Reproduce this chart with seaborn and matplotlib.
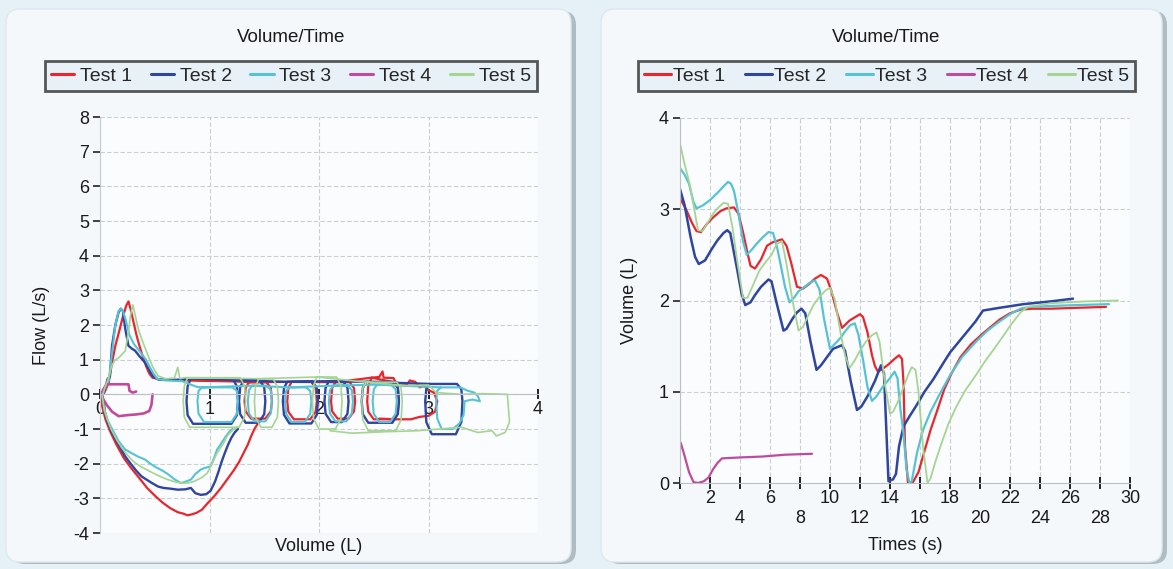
import matplotlib
matplotlib.use("Agg")
import matplotlib.pyplot as plt
from matplotlib.patches import FancyBboxPatch
from matplotlib.transforms import IdentityTransform
import seaborn as sns
import numpy as np

# ---------------- data ----------------
test_names = ["Test 1", "Test 2", "Test 3", "Test 4", "Test 5"]
test_colors = ["#e8262d", "#2f45a0", "#56c2d4", "#c04a9e", "#a6d493"]

# Flow / Volume loops (left chart)
t1_fv_vol = [1.44, 1.41, 1.38, 1.35, 1.31, 1.27, 1.22, 1.16, 1.10, 1.04, 0.98, 0.93, 0.88, 0.84, 0.80,
             0.76, 0.71, 0.64, 0.57, 0.50, 0.43, 0.36, 0.29, 0.22, 0.15, 0.09, 0.05, 0.02, 0.01,
             0.04, 0.08, 0.11, 0.14, 0.18, 0.21, 0.24, 0.26, 0.28, 0.30, 0.33, 0.36, 0.39, 0.42, 0.45,
             0.48, 0.55, 0.70, 0.90, 1.10, 1.25,
             1.36, 1.52, 1.56, 1.57, 1.56, 1.51, 1.38, 1.33, 1.32, 1.33, 1.36,
             1.75, 1.93, 1.97, 1.98, 1.97, 1.92, 1.77, 1.72, 1.71, 1.72, 1.75,
             2.15, 2.28, 2.32, 2.33, 2.32, 2.27, 2.17, 2.12, 2.11, 2.12, 2.15,
             2.48, 2.55, 2.58, 2.59, 2.68, 2.72, 2.73, 2.72, 2.67, 2.50, 2.45, 2.44, 2.45, 2.48,
             2.80, 2.83, 2.88, 2.92, 2.96, 3.00, 3.05, 3.08, 3.06, 3.00, 2.92, 2.84, 2.70, 2.55]
t1_fv_flow = [-0.85, -1.00, -1.21, -1.45, -1.70, -1.95, -2.20, -2.46, -2.72, -2.95, -3.15, -3.33, -3.42, -3.46, -3.49,
              -3.44, -3.40, -3.28, -3.12, -2.92, -2.70, -2.42, -2.15, -1.85, -1.45, -1.05, -0.72, -0.35, 0.00,
              0.05, 0.35, 0.92, 1.40, 1.88, 2.25, 2.56, 2.68, 2.45, 2.17, 1.75, 1.40, 1.10, 0.82, 0.60,
              0.48, 0.43, 0.41, 0.39, 0.38, 0.37,
              0.35, 0.35, 0.18, -0.20, -0.49, -0.70, -0.70, -0.49, -0.20, 0.18, 0.35,
              0.36, 0.36, 0.18, -0.20, -0.50, -0.72, -0.72, -0.50, -0.20, 0.18, 0.36,
              0.35, 0.35, 0.18, -0.20, -0.49, -0.70, -0.70, -0.49, -0.20, 0.18, 0.35,
              0.48, 0.50, 0.66, 0.48, 0.47, 0.24, -0.20, -0.50, -0.72, -0.72, -0.50, -0.20, 0.24, 0.48,
              0.28, 0.40, 0.36, 0.20, 0.25, 0.12, 0.05, -0.20, -0.50, -0.62, -0.65, -0.72, -0.72, -0.70]

t2_fv_vol = [1.26, 1.23, 1.20, 1.17, 1.14, 1.11, 1.08, 1.05, 1.01, 0.97, 0.92, 0.87, 0.83, 0.78, 0.71,
             0.64, 0.58, 0.53, 0.47, 0.42, 0.38, 0.33, 0.28, 0.23, 0.17, 0.11, 0.07, 0.04, 0.02,
             0.04, 0.07, 0.09, 0.11, 0.14, 0.17, 0.19, 0.21, 0.23, 0.26, 0.29, 0.32, 0.36, 0.41, 0.45,
             0.48, 0.53, 0.60, 0.70, 0.80,
             0.83, 1.21, 1.25, 1.26, 1.25, 1.20, 0.85, 0.80, 0.79, 0.80, 0.83,
             1.31, 1.46, 1.50, 1.51, 1.50, 1.45, 1.33, 1.28, 1.27, 1.28, 1.31,
             1.71, 1.94, 1.98, 1.99, 1.98, 1.93, 1.73, 1.68, 1.67, 1.68, 1.71,
             2.09, 2.22, 2.26, 2.27, 2.26, 2.21, 2.11, 2.06, 2.05, 2.06, 2.09,
             2.43, 2.68, 2.72, 2.73, 2.72, 2.67, 2.45, 2.40, 2.39, 2.40, 2.43,
             3.01, 3.26, 3.30, 3.31, 3.30, 3.25, 3.03, 2.98, 2.97, 2.98, 3.01]
t2_fv_flow = [-1.00, -1.10, -1.25, -1.45, -1.69, -1.95, -2.25, -2.52, -2.78, -2.88, -2.90, -2.85, -2.70, -2.74, -2.75,
              -2.72, -2.70, -2.66, -2.55, -2.45, -2.37, -2.20, -2.00, -1.79, -1.45, -1.10, -0.80, -0.45, -0.05,
              0.10, 0.45, 0.50, 1.40, 2.00, 2.37, 2.47, 2.40, 1.90, 1.40, 1.32, 1.26, 1.10, 0.92, 0.70,
              0.53, 0.43, 0.42, 0.42, 0.44,
              0.46, 0.46, 0.23, -0.20, -0.60, -0.85, -0.85, -0.60, -0.20, 0.23, 0.46,
              0.40, 0.40, 0.20, -0.20, -0.57, -0.82, -0.82, -0.57, -0.20, 0.20, 0.40,
              0.36, 0.36, 0.18, -0.20, -0.59, -0.84, -0.84, -0.59, -0.20, 0.18, 0.36,
              0.38, 0.38, 0.19, -0.20, -0.56, -0.80, -0.80, -0.56, -0.20, 0.19, 0.38,
              0.36, 0.36, 0.18, -0.20, -0.57, -0.82, -0.82, -0.57, -0.20, 0.18, 0.36,
              0.30, 0.30, 0.15, -0.20, -0.80, -1.15, -1.15, -0.80, -0.20, 0.15, 0.30]

t3_fv_vol = [1.21, 1.18, 1.15, 1.12, 1.09, 1.07, 1.04, 1.01, 0.96, 0.92, 0.87, 0.83, 0.78, 0.74, 0.68,
             0.62, 0.57, 0.51, 0.45, 0.41, 0.35, 0.29, 0.23, 0.17, 0.11, 0.07, 0.04, 0.02,
             0.04, 0.08, 0.11, 0.14, 0.17, 0.19, 0.21, 0.23, 0.27, 0.31, 0.36, 0.42, 0.47, 0.52, 0.60,
             0.75, 0.88,
             0.93, 1.21, 1.25, 1.26, 1.25, 1.20, 0.95, 0.90, 0.89, 0.90, 0.93,
             1.39, 1.52, 1.56, 1.57, 1.56, 1.51, 1.41, 1.36, 1.35, 1.36, 1.39,
             1.73, 1.88, 1.92, 1.93, 1.92, 1.87, 1.75, 1.70, 1.69, 1.70, 1.73,
             2.13, 2.26, 2.30, 2.31, 2.30, 2.25, 2.15, 2.10, 2.09, 2.10, 2.13,
             2.53, 2.66, 2.70, 2.71, 2.70, 2.65, 2.55, 2.50, 2.49, 2.50, 2.53,
             3.11, 3.29, 3.36, 3.42, 3.45, 3.47, 3.40, 3.33, 3.32, 3.28, 3.22, 3.12, 3.08, 3.07, 3.08, 3.11]
t3_fv_flow = [-1.00, -1.08, -1.21, -1.35, -1.50, -1.59, -1.85, -2.08, -2.12, -2.17, -2.30, -2.46, -2.52, -2.56, -2.45,
              -2.30, -2.20, -2.10, -1.98, -1.88, -1.80, -1.70, -1.59, -1.35, -1.00, -0.75, -0.45, -0.05,
              0.15, 0.40, 1.20, 2.00, 2.40, 2.47, 2.40, 2.20, 1.70, 1.45, 1.25, 1.00, 0.70, 0.45, 0.40,
              0.38, 0.22,
              0.20, 0.20, 0.10, -0.20, -0.56, -0.80, -0.80, -0.56, -0.20, 0.10, 0.20,
              0.25, 0.25, 0.12, -0.20, -0.55, -0.78, -0.78, -0.55, -0.20, 0.12, 0.25,
              0.20, 0.20, 0.10, -0.20, -0.56, -0.80, -0.80, -0.56, -0.20, 0.10, 0.20,
              0.25, 0.25, 0.12, -0.20, -0.55, -0.78, -0.78, -0.55, -0.20, 0.12, 0.25,
              0.28, 0.28, 0.14, -0.20, -0.56, -0.80, -0.80, -0.56, -0.20, 0.14, 0.28,
              0.20, 0.20, 0.10, 0.05, -0.05, -0.20, -0.15, -0.20, -0.60, -0.85, -1.00, -1.00, -0.70, -0.20, 0.10, 0.20]

t4_fv_vol = [0.48, 0.47, 0.45, 0.40, 0.33, 0.25, 0.17, 0.11, 0.06, 0.03, 0.01, 0.03, 0.06, 0.10, 0.18, 0.26, 0.27, 0.30, 0.33]
t4_fv_flow = [0.00, -0.30, -0.48, -0.55, -0.58, -0.60, -0.63, -0.50, -0.30, -0.14, 0.00, 0.14, 0.29, 0.29, 0.29, 0.29, 0.10, 0.05, 0.08]

t5_fv_vol = [1.25, 1.22, 1.19, 1.16, 1.13, 1.10, 1.07, 1.03, 0.98, 0.93, 0.86, 0.80, 0.74, 0.68, 0.61,
             0.55, 0.49, 0.43, 0.37, 0.31, 0.25, 0.20, 0.15, 0.10, 0.07, 0.04, 0.02,
             0.04, 0.08, 0.11, 0.14, 0.17, 0.20, 0.23, 0.26, 0.28, 0.30, 0.32, 0.35, 0.38, 0.41, 0.44,
             0.48, 0.53, 0.60, 0.68, 0.71, 0.73, 0.77,
             0.80, 1.28, 1.32, 1.33, 1.32, 1.27, 0.82, 0.77, 0.76, 0.77, 0.80,
             1.45, 1.58, 1.62, 1.63, 1.62, 1.57, 1.47, 1.42, 1.41, 1.42, 1.45,
             1.98, 2.16, 2.20, 2.21, 2.20, 2.15, 2.00, 1.95, 1.94, 1.95, 1.98,
             2.43, 2.71, 2.75, 2.76, 2.75, 2.70, 2.45, 2.40, 2.39, 2.40, 2.43,
             2.80, 3.00, 3.07, 3.30, 3.50, 3.72, 3.74, 3.70, 3.62, 3.58, 3.45, 3.30, 3.10, 2.90, 2.60, 2.30, 2.10]
t5_fv_flow = [-0.95, -1.01, -1.10, -1.21, -1.40, -1.55, -1.69, -1.95, -2.27, -2.40, -2.51, -2.56, -2.56, -2.52, -2.45,
              -2.37, -2.28, -2.18, -2.08, -1.95, -1.75, -1.55, -1.30, -1.00, -0.75, -0.45, -0.05,
              0.15, 0.50, 0.85, 1.00, 1.05, 1.15, 1.25, 1.80, 2.30, 2.58, 2.30, 1.88, 1.60, 1.35, 1.11,
              0.80, 0.53, 0.45, 0.47, 0.78, 0.45, 0.48,
              0.48, 0.48, 0.24, -0.20, -0.66, -0.95, -0.95, -0.66, -0.20, 0.24, 0.48,
              0.45, 0.45, 0.22, -0.20, -0.66, -0.95, -0.95, -0.66, -0.20, 0.22, 0.45,
              0.50, 0.50, 0.25, -0.20, -0.70, -1.00, -1.00, -0.70, -0.20, 0.25, 0.50,
              0.35, 0.35, 0.18, -0.20, -0.73, -1.05, -1.05, -0.73, -0.20, 0.18, 0.35,
              0.25, 0.27, 0.05, 0.00, 0.02, 0.00, -0.80, -1.10, -1.20, -1.05, -1.10, -0.95, -1.00, -1.05, -1.08, -1.12, -1.05]

# Volume / Time (right chart)
t1_time = [0.0, 0.4, 0.8, 1.1, 1.4, 1.8, 2.2, 2.7, 3.1, 3.6, 3.9, 4.2, 4.5, 4.7, 5.0, 5.4, 5.8, 6.2, 6.8, 7.1,
           7.4, 7.8, 8.2, 8.6, 9.0, 9.4, 9.8, 10.1, 10.5, 10.8, 11.3, 11.7, 12.0, 12.2, 12.5, 12.8, 13.0, 13.2,
           13.5, 13.9, 14.3, 14.6, 14.8, 14.9, 15.0, 15.2, 15.5, 15.9, 16.3, 16.7, 17.2, 17.6, 18.1, 18.7, 19.4,
           20.2, 21.3, 22.0, 22.7, 23.5, 24.7, 26.5, 28.4]
t1_volume = [3.12, 3.00, 2.85, 2.76, 2.75, 2.84, 2.91, 2.98, 3.01, 3.02, 2.95, 2.75, 2.52, 2.38, 2.35, 2.45, 2.60, 2.64,
             2.67, 2.60, 2.42, 2.15, 2.13, 2.18, 2.24, 2.28, 2.24, 2.10, 1.85, 1.70, 1.78, 1.82, 1.85, 1.82, 1.65,
             1.40, 1.28, 1.22, 1.25, 1.30, 1.36, 1.40, 1.36, 1.10, 0.40, 0.00, 0.00, 0.12, 0.35, 0.58, 0.82, 1.02,
             1.20, 1.38, 1.52, 1.64, 1.79, 1.86, 1.90, 1.91, 1.91, 1.92, 1.93]
t2_time = [0.0, 0.3, 0.7, 1.0, 1.25, 1.67, 2.1, 2.5, 2.9, 3.15, 3.35, 3.8, 4.1, 4.35, 4.7, 5.0, 5.4, 5.9, 6.1, 6.4,
           6.9, 7.1, 7.5, 7.8, 8.1, 8.35, 8.7, 9.1, 9.4, 9.8, 10.2, 10.8, 11.0, 11.4, 11.8, 12.1, 12.5, 13.0, 13.4,
           13.6, 13.75, 13.9, 14.2, 14.4, 14.6, 14.9, 15.3, 15.8, 16.3, 16.9, 17.5, 18.0, 18.6, 19.1, 19.7, 20.2,
           21.3, 22.1, 22.9, 24.7, 26.2]
t2_volume = [3.22, 3.05, 2.70, 2.48, 2.40, 2.44, 2.56, 2.66, 2.74, 2.77, 2.74, 2.35, 2.08, 1.95, 1.98, 2.06, 2.15, 2.23,
             2.21, 2.00, 1.67, 1.69, 1.80, 1.87, 1.91, 1.86, 1.55, 1.24, 1.29, 1.38, 1.47, 1.51, 1.45, 1.10, 0.80,
             0.84, 0.95, 1.12, 1.29, 1.20, 0.60, 0.02, 0.04, 0.10, 0.40, 0.62, 0.73, 0.86, 1.00, 1.14, 1.30, 1.43,
             1.55, 1.65, 1.77, 1.89, 1.92, 1.94, 1.96, 1.99, 2.02]
t3_time = [0.0, 0.3, 0.6, 0.9, 1.1, 1.5, 2.0, 2.5, 2.9, 3.2, 3.4, 3.6, 3.9, 4.2, 4.45, 4.8, 5.1, 5.5, 5.9, 6.2, 6.45,
           6.7, 7.0, 7.3, 7.6, 7.9, 8.3, 8.7, 9.0, 9.3, 9.6, 10.0, 10.3, 10.7, 11.0, 11.35, 11.65, 11.9, 12.2, 12.5,
           12.8, 13.1, 13.5, 14.0, 14.3, 14.5, 14.7, 14.9, 15.1, 15.3, 15.45, 15.8, 16.2, 16.7, 17.3, 18.0, 18.8,
           19.8, 20.5, 21.3, 22.0, 22.7, 23.3, 24.7, 26.5, 28.6]
t3_volume = [3.45, 3.38, 3.28, 3.08, 3.01, 3.04, 3.10, 3.18, 3.25, 3.30, 3.28, 3.20, 2.95, 2.65, 2.50, 2.56, 2.62, 2.69,
             2.75, 2.74, 2.60, 2.40, 2.15, 1.98, 2.03, 2.10, 2.15, 2.20, 2.22, 2.12, 1.80, 1.47, 1.52, 1.59, 1.66,
             1.73, 1.75, 1.62, 1.35, 1.05, 0.90, 0.95, 1.05, 1.15, 1.22, 1.15, 0.80, 0.55, 0.15, 0.00, 0.02, 0.33,
             0.58, 0.78, 0.97, 1.18, 1.38, 1.56, 1.67, 1.77, 1.85, 1.91, 1.93, 1.94, 1.95, 1.96]
t4_time = [0.05, 0.3, 0.6, 0.9, 1.2, 1.6, 1.9, 2.2, 2.5, 2.8, 4.0, 5.5, 7.0, 8.8]
t4_volume = [0.44, 0.30, 0.12, 0.01, 0.00, 0.02, 0.06, 0.15, 0.22, 0.27, 0.28, 0.29, 0.31, 0.32]
t5_time = [0.0, 0.3, 0.65, 0.95, 1.2, 1.5, 1.8, 2.2, 2.5, 2.9, 3.2, 3.5, 3.8, 4.2, 4.5, 4.9, 5.3, 5.7, 6.1, 6.45,
           6.8, 7.1, 7.5, 7.9, 8.2, 8.5, 8.9, 9.3, 9.7, 10.0, 10.3, 10.7, 11.0, 11.3, 11.6, 12.0, 12.4, 12.8, 13.1,
           13.3, 13.7, 14.0, 14.2, 14.5, 14.9, 15.2, 15.45, 15.7, 15.9, 16.2, 16.5, 16.7, 17.0, 17.4, 17.9, 18.4,
           19.0, 19.8, 20.4, 20.9, 21.5, 22.0, 22.7, 23.2, 24.7, 27.0, 29.2]
t5_volume = [3.72, 3.50, 3.27, 3.00, 2.77, 2.76, 2.84, 2.95, 3.01, 3.07, 3.06, 2.80, 2.45, 2.03, 2.03, 2.18, 2.33, 2.42,
             2.50, 2.62, 2.65, 2.40, 2.00, 1.67, 1.71, 1.82, 1.95, 2.04, 2.11, 2.14, 2.02, 1.65, 1.40, 1.26, 1.33,
             1.45, 1.55, 1.62, 1.65, 1.55, 1.05, 0.76, 0.78, 0.88, 1.05, 1.18, 1.27, 1.24, 1.00, 0.40, 0.00, 0.05,
             0.22, 0.42, 0.65, 0.83, 1.01, 1.20, 1.35, 1.46, 1.60, 1.72, 1.87, 1.93, 1.97, 1.99, 2.00]

flow_ticks = list(range(-4, 9))
vol_ticks_left = [0, 1, 2, 3, 4]
time_ticks = list(range(0, 31, 2))
vol_ticks_right = [0, 1, 2, 3, 4]

# ---------------- figure ----------------
sns.set_theme(style="white")
plt.rcParams["font.family"] = ["Liberation Sans", "DejaVu Sans"]

W, H = 1173, 569
fig = plt.figure(figsize=(W / 100, H / 100), dpi=100, facecolor="#e6f1f7")

def add_card(x0, x1, ytop, ybot):
    w = x1 - x0
    h = ybot - ytop
    sh = FancyBboxPatch((x0 + 5, H - ybot - 2), w, h, boxstyle="round,pad=0,rounding_size=14",
                        transform=IdentityTransform(), facecolor="#8f999f", edgecolor="none",
                        alpha=0.6, zorder=-3)
    fig.patches.append(sh)
    card = FancyBboxPatch((x0, H - ybot), w, h, boxstyle="round,pad=0,rounding_size=14",
                          transform=IdentityTransform(), facecolor="#f4f8fb", edgecolor="#dde9ef",
                          linewidth=1.0, zorder=-2)
    fig.patches.append(card)

add_card(6, 571, 9, 562)
add_card(601, 1162, 9, 562)

FS = 13
fig.text(291 / W, 1 - 38 / H, "Volume/Time", ha="center", va="center", fontsize=13.5, color="#1a1a1a")
fig.text(886 / W, 1 - 38 / H, "Volume/Time", ha="center", va="center", fontsize=13.5, color="#1a1a1a")

grid_kw = dict(color="#c8d0d4", linestyle=(0, (4, 2)), linewidth=0.8)

# ---- left axes: Flow vs Volume ----
axL = fig.add_axes([100 / W, 1 - 533 / H, 438 / W, 416 / H])
axL.set_facecolor("#fafcfd")
fv_vols = [t1_fv_vol, t2_fv_vol, t3_fv_vol, t4_fv_vol, t5_fv_vol]
fv_flows = [t1_fv_flow, t2_fv_flow, t3_fv_flow, t4_fv_flow, t5_fv_flow]
widths = [1.6, 1.7, 1.5, 1.9, 1.2]
for name, col, vx, fy_, lw in zip(test_names, test_colors, fv_vols, fv_flows, widths):
    sns.lineplot(x=np.array(vx), y=np.array(fy_), sort=False, estimator=None, color=col,
                 linewidth=lw, label=name, ax=axL)
if axL.get_legend() is not None:
    axL.get_legend().remove()

axL.set_xlim(0, 4)
axL.set_ylim(-4, 8)
axL.set_xticks(vol_ticks_left)
axL.set_xticklabels([str(v) for v in vol_ticks_left])
axL.set_yticks(flow_ticks)
axL.set_yticklabels([str(v) for v in flow_ticks])
axL.grid(True, **grid_kw)
axL.set_axisbelow(True)
for s in ["top", "right"]:
    axL.spines[s].set_visible(False)
axL.spines["left"].set_color("#c3ccd0")
axL.spines["left"].set_linewidth(0.8)
axL.spines["bottom"].set_position(("data", 0))
axL.spines["bottom"].set_color("#b8c2c6")
axL.spines["bottom"].set_linewidth(0.8)
axL.tick_params(axis="y", direction="out", length=5, width=1.2, color="#222222",
                labelsize=FS, pad=3, left=True, labelcolor="#1a1a1a")
axL.tick_params(axis="x", direction="inout", length=7, width=1.4, color="#222222",
                labelsize=FS, pad=1, bottom=True, labelcolor="#1a1a1a")
axL.set_xlabel("Volume (L)", fontsize=FS, color="#1a1a1a")
axL.set_ylabel("Flow (L/s)", fontsize=FS, color="#1a1a1a")
axL.xaxis.set_label_coords(0.5, -5 / 416)
axL.yaxis.set_label_coords(-50 / 438, 0.5)

handles, labels = axL.get_legend_handles_labels()
legL = fig.legend(handles, labels, loc="center", ncol=5, mode="expand",
                  bbox_to_anchor=(45 / W, 1 - 90 / H, 492 / W, 28 / H), bbox_transform=fig.transFigure,
                  fontsize=14, frameon=True, fancybox=False, handlelength=1.2, handletextpad=0.3,
                  columnspacing=0.8, borderpad=0.3, borderaxespad=0)
legL.get_frame().set_facecolor("#e4f0f6")
legL.get_frame().set_edgecolor("#2e2e2e")
legL.get_frame().set_linewidth(2.0)
for ln in legL.get_lines():
    ln.set_linewidth(2.2)

# ---- right axes: Volume vs Time ----
axR = fig.add_axes([680 / W, 1 - 483 / H, 450 / W, 365 / H])
axR.set_facecolor("#fafcfd")
times = [t1_time, t2_time, t3_time, t4_time, t5_time]
vols = [t1_volume, t2_volume, t3_volume, t4_volume, t5_volume]
widths_r = [1.6, 1.8, 1.6, 1.6, 1.3]
for name, col, tx, vy, lw in zip(test_names, test_colors, times, vols, widths_r):
    sns.lineplot(x=np.array(tx), y=np.array(vy), sort=False, estimator=None, color=col,
                 linewidth=lw, label=name, ax=axR)
if axR.get_legend() is not None:
    axR.get_legend().remove()

axR.set_xlim(0, 30)
axR.set_ylim(0, 4)
axR.set_xticks(time_ticks)
axR.set_xticklabels(["" if v == 0 else (str(v) if v % 4 == 2 else "\n" + str(v)) for v in time_ticks])
axR.set_yticks(vol_ticks_right)
axR.set_yticklabels([str(v) for v in vol_ticks_right])
axR.grid(True, **grid_kw)
axR.set_axisbelow(True)
for s in ["top", "right"]:
    axR.spines[s].set_visible(False)
for s in ["left", "bottom"]:
    axR.spines[s].set_color("#b8c2c6")
    axR.spines[s].set_linewidth(0.8)
axR.tick_params(axis="y", direction="out", length=5, width=1.2, color="#222222",
                labelsize=FS, pad=3, left=True, labelcolor="#1a1a1a")
axR.tick_params(axis="x", direction="inout", length=8, width=1.4, color="#222222",
                labelsize=FS, pad=1, bottom=True, labelcolor="#1a1a1a")
axR.set_xlabel("Times (s)", fontsize=FS, color="#1a1a1a")
axR.set_ylabel("Volume (L)", fontsize=FS, color="#1a1a1a")
axR.xaxis.set_label_coords(0.5, -54 / 365)
axR.yaxis.set_label_coords(-42 / 450, 0.5)

handles, labels = axR.get_legend_handles_labels()
legR = fig.legend(handles, labels, loc="center", ncol=5, mode="expand",
                  bbox_to_anchor=(638 / W, 1 - 90 / H, 497 / W, 28 / H), bbox_transform=fig.transFigure,
                  fontsize=14, frameon=True, fancybox=False, handlelength=1.4, handletextpad=0.1,
                  columnspacing=0.8, borderpad=0.3, borderaxespad=0)
legR.get_frame().set_facecolor("#e4f0f6")
legR.get_frame().set_edgecolor("#2e2e2e")
legR.get_frame().set_linewidth(2.0)
for ln in legR.get_lines():
    ln.set_linewidth(2.2)

fig.savefig("out.png", dpi=100, facecolor=fig.get_facecolor())
